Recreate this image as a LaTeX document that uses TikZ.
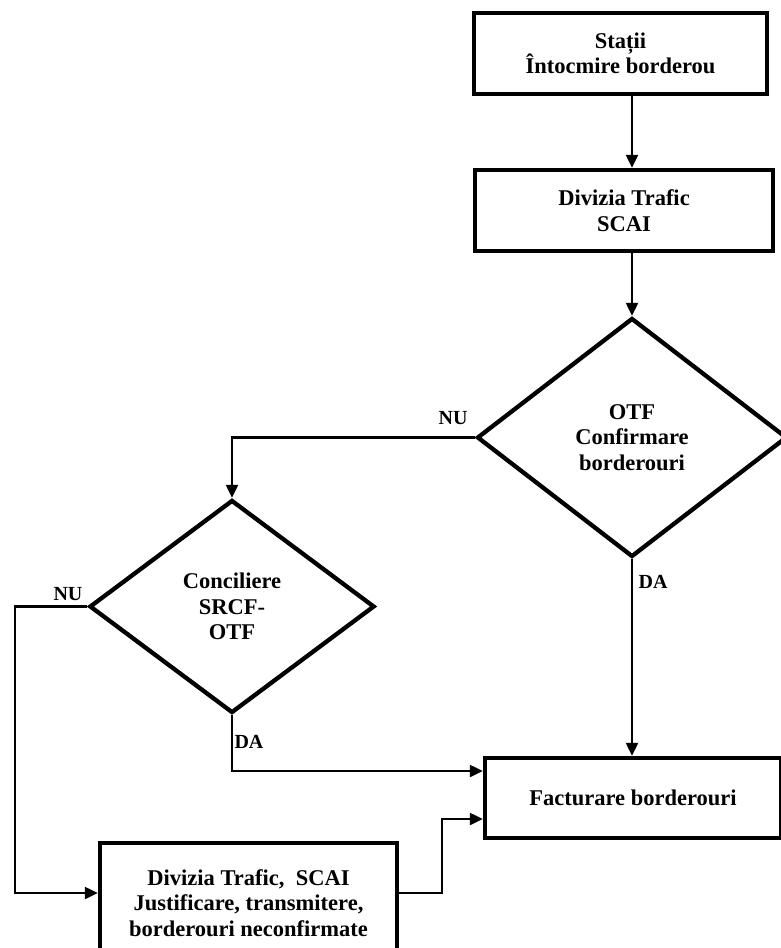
\documentclass[tikz,border=0pt]{standalone}
\usepackage{fontspec}
\setmainfont{Liberation Serif}
\usetikzlibrary{shapes.geometric,arrows.meta}
\begin{document}
\begin{tikzpicture}[x=1pt,y=-1pt,
  txt/.style={font=\bfseries\fontsize{22.5}{25.5}\selectfont, align=center},
  box/.style={txt, draw, line width=4.3pt, rectangle, inner sep=0pt},
  dec/.style={txt, draw, line width=4.3pt, diamond, inner sep=0pt},
  conn/.style={line width=2.1pt, -{Triangle[length=13pt,width=12pt]}},
  lbl/.style={font=\bfseries\fontsize{20}{22}\selectfont, inner sep=0pt}]
\useasboundingbox (0,0) rectangle (780,948);

\node[box, minimum width=293pt, minimum height=81pt] (b1) at (620.5,53.5) {Stații\\Întocmire borderou};
\node[box, minimum width=298pt, minimum height=81pt] (b2) at (624,210.5) {Divizia Trafic\\SCAI};
\node[dec, minimum width=310pt, minimum height=239pt] (d1) at (632,437.5) {OTF\\Confirmare\\borderouri};
\node[dec, minimum width=285pt, minimum height=213pt] (d2) at (232,606.5) {Conciliere\\SRCF-\\OTF};
\node[box, minimum width=296pt, minimum height=80pt] (b4) at (633,798) {Facturare borderouri};
\node[box, minimum width=297pt, minimum height=120pt] (b3) at (248.5,903) {Divizia Trafic,\ \ SCAI\\Justificare, transmitere,\\borderouri neconfirmate};

\coordinate (c1) at (15,606.5);
\coordinate (c2) at (442,893);
\coordinate (c3) at (442,819);
\coordinate (c4) at (232,771);

\draw[conn] (b1.south -| d1.north) -- (b2.north -| d1.north);
\draw[conn] (b2.south -| d1.north) -- (d1.north);
\draw[conn] (d1.west) -| (d2.north);
\draw[conn] (d2.west) -- (c1) |- (b3.west |- c2);
\draw[conn] (d2.south) -- (c4) -- (c4 -| b4.west);
\draw[conn] (d1.south) -- (d1.south |- b4.north);
\draw[conn] (b3.east |- c2) -- (c2) -- (c3) -- (c3 -| b4.west);

\node[lbl] (nu1) at (453,418) {NU};
\node[lbl] (nu2) at (68,594) {NU};
\node[lbl] (da1) at (653,582) {DA};
\node[lbl] (da2) at (249,742) {DA};
\end{tikzpicture}
\end{document}
